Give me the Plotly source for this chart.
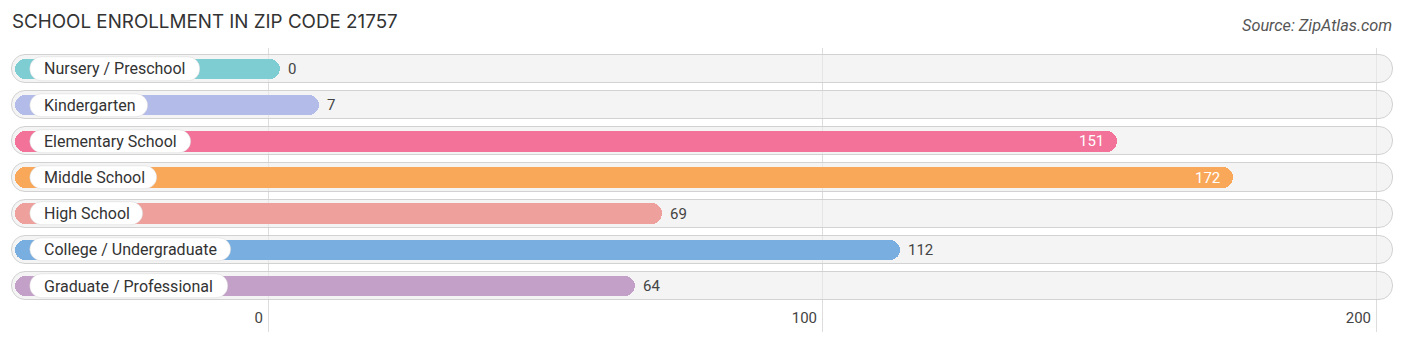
import plotly.graph_objects as go

# --- data -------------------------------------------------------------
categories = [
    "Nursery / Preschool",
    "Kindergarten",
    "Elementary School",
    "Middle School",
    "High School",
    "College / Undergraduate",
    "Graduate / Professional",
]
enrollment = [0, 7, 151, 172, 69, 112, 64]
bar_colors = ["#7dcdd3", "#b3bce9", "#f27299", "#f9a85a", "#eea09c", "#79aee0", "#c3a0c8"]
tick_values = [0, 100, 200]

# --- geometry (pixel scale helpers) -----------------------------------
W, H = 1406, 342
PX_PER_UNIT = 5.54          # horizontal scale
ZERO_PX = 268               # pixel position of value 0
x_lo = -ZERO_PX / PX_PER_UNIT
x_hi = x_lo + W / PX_PER_UNIT


def px_to_x(px):
    return (px - ZERO_PX) / PX_PER_UNIT


track_start = px_to_x(12)
track_end = px_to_x(1393)
bar_start = px_to_x(15)
bar_pad = 12 / PX_PER_UNIT   # bars reach a little past their value
pill_start = px_to_x(30)
# right edge (px) of the white label pill for each category
pill_end_px = {
    "Nursery / Preschool": 200,
    "Kindergarten": 148,
    "Elementary School": 191,
    "Middle School": 157,
    "High School": 143,
    "College / Undergraduate": 231,
    "Graduate / Professional": 228,
}

fig = go.Figure()

# background tracks
fig.add_trace(go.Bar(
    y=categories, x=[track_end - track_start] * len(categories), base=track_start,
    orientation="h", width=0.78,
    marker=dict(color="rgba(236,236,236,0.6)", line=dict(color="rgba(205,205,205,0.9)", width=1),
                cornerradius=14),
    hoverinfo="skip", showlegend=False,
))

# value bars
bar_ends = [v + bar_pad for v in enrollment]
fig.add_trace(go.Bar(
    y=categories, x=[e - bar_start for e in bar_ends], base=bar_start,
    orientation="h", width=0.57,
    marker=dict(color=bar_colors, line=dict(width=0), cornerradius=11),
    hoverinfo="skip", showlegend=False,
))

# white label pills
fig.add_trace(go.Bar(
    y=categories, x=[px_to_x(pill_end_px[c]) - pill_start for c in categories], base=pill_start,
    orientation="h", width=0.64,
    marker=dict(color="white", line=dict(color="rgba(205,205,205,0.8)", width=0.5), cornerradius=12),
    hoverinfo="skip", showlegend=False,
))

# category labels
for c in categories:
    fig.add_annotation(
        x=pill_start, y=c, xref="x", yref="y", text=c, showarrow=False,
        xanchor="left", xshift=12, font=dict(family="Roboto", size=16, color="#333333"),
    )

# value labels
vmax = max(enrollment)
for c, v, e in zip(categories, enrollment, bar_ends):
    inside = v > 0.8 * vmax
    fig.add_annotation(
        x=e, y=c, xref="x", yref="y", text=str(v), showarrow=False,
        xanchor="right" if inside else "left", xshift=-11 if inside else 6,
        font=dict(family="Roboto", size=15, color="white" if inside else "#444444"),
    )

fig.update_layout(
    width=W, height=H, margin=dict(l=0, r=0, t=48, b=10),
    plot_bgcolor="white", paper_bgcolor="white",
    barmode="overlay", bargap=0,
    xaxis=dict(
        range=[x_lo, x_hi], tickvals=tick_values, ticktext=[str(t) for t in tick_values],
        showgrid=True, gridcolor="#dddddd", gridwidth=1, zeroline=False,
        ticklabelposition="inside left", ticklabelshift=-5, ticks="", showline=False,
        tickfont=dict(family="Roboto", size=15, color="#444444"),
        fixedrange=True,
    ),
    yaxis=dict(
        range=[7.27, -0.58], showticklabels=False, showgrid=False, zeroline=False,
        fixedrange=True,
    ),
    title=dict(
        text="SCHOOL ENROLLMENT IN ZIP CODE 21757", x=12 / W, xanchor="left",
        y=1 - 21 / H, yanchor="middle",
        font=dict(family="Inter", size=18.8, color="#333333"),
    ),
    annotations=list(fig.layout.annotations) + [dict(
        text="<i>Source: ZipAtlas.com</i>", xref="paper", yref="paper",
        x=1394 / W, xanchor="right", y=1 + (48 - 25) / (H - 58), yanchor="middle",
        showarrow=False, font=dict(family="Roboto", size=16.3, color="#555555"),
    )],
)

fig.write_html("out.html")
